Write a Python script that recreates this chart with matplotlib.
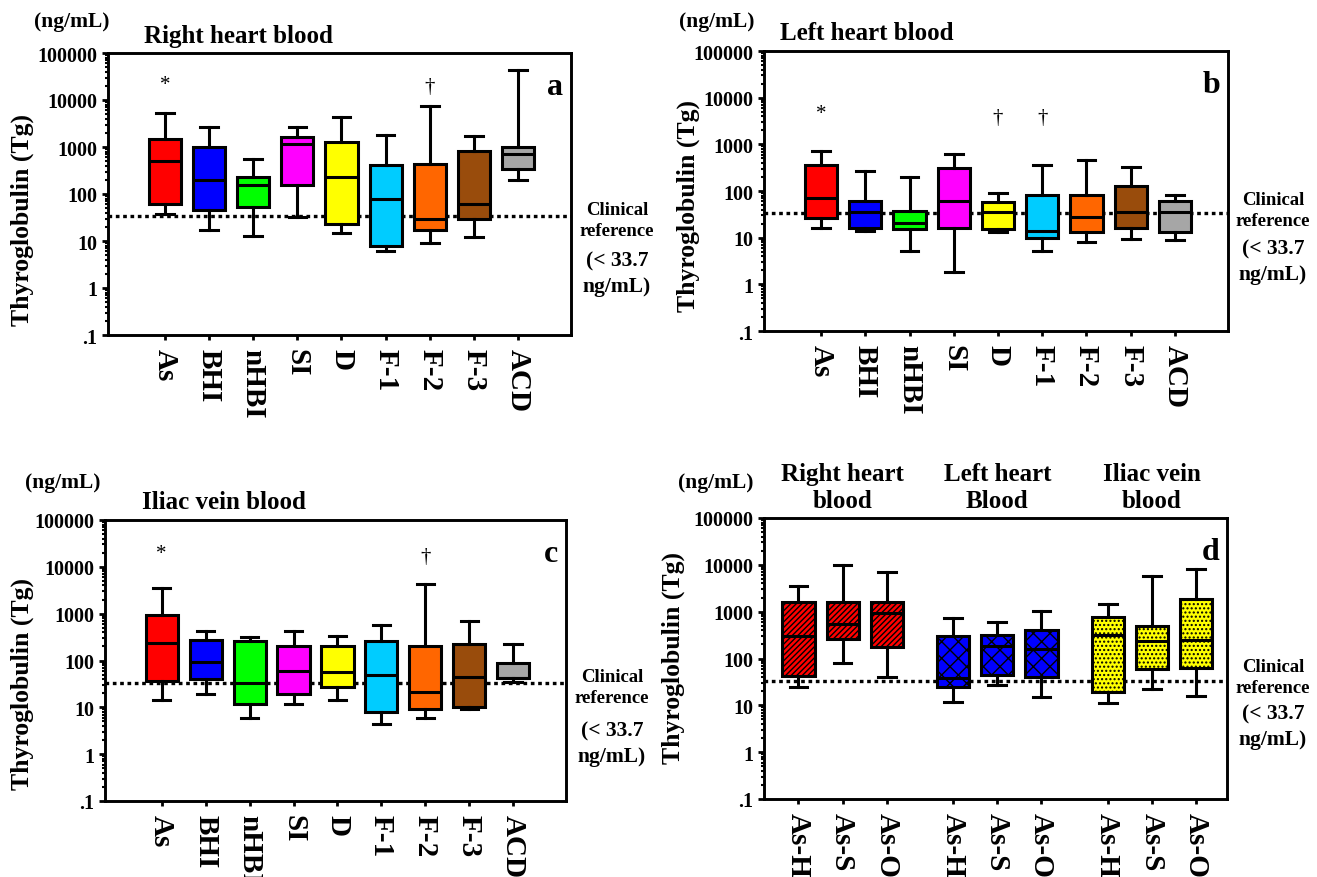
import numpy as np
import matplotlib
matplotlib.use("Agg")
import matplotlib.pyplot as plt
from matplotlib.ticker import FixedLocator, LogLocator, NullFormatter

plt.rcParams['font.family'] = ['Liberation Serif', 'DejaVu Serif']
plt.rcParams['font.weight'] = 'bold'
plt.rcParams['hatch.linewidth'] = 1.0

# groups for panels a-c
groups = ['As', 'BHI', 'nHBI', 'SI', 'D', 'F-1', 'F-2', 'F-3', 'ACD']
colors = ['#ff0000', '#0000ff', '#00ff00', '#ff00ff', '#ffff00',
          '#00ccff', '#ff6600', '#994c0c', '#a6a6a6']

# five-number summaries (whisker low, Q1, median, Q3, whisker high), ng/mL
right_low = [37, 17, 13, 32, 15, 6.2, 9.2, 12, 196]
right_q1 = [62, 45, 53, 158, 22.6, 7.7, 17, 29, 340]
right_med = [500, 196, 152, 1170, 225, 78, 29, 62, 700]
right_q3 = [1500, 980, 230, 1620, 1290, 410, 445, 820, 980]
right_high = [5400, 2700, 550, 2700, 4400, 1830, 7400, 1740, 44000]

left_low = [16, 14, 5.2, 1.8, 13.5, 5.2, 8, 9.5, 9]
left_q1 = [26, 16, 15.5, 16, 15.5, 10, 13.5, 16, 13.5]
left_med = [72, 36, 21, 61, 36, 13.8, 28, 35, 35]
left_q3 = [355, 61, 37, 305, 58, 82, 82, 125, 61]
left_high = [720, 265, 195, 630, 91, 355, 460, 325, 84]

iliac_low = [14, 19, 5.9, 11.5, 14, 4.5, 5.9, 9.2, 34]
iliac_q1 = [36, 41, 12, 19, 27, 7.9, 9.4, 10.2, 42]
iliac_med = [235, 92, 33, 61, 57, 48, 21, 45, 42]
iliac_q3 = [930, 275, 258, 200, 200, 258, 200, 220, 87]
iliac_high = [3600, 420, 315, 420, 340, 570, 4200, 690, 220]

# significance marks: (group, symbol, y value)
right_marks = [('As', '*', 21000), ('F-2', '†', 19000)]
left_marks = [('As', '*', 4600), ('D', '†', 3800), ('F-1', '†', 3800)]
iliac_marks = [('As', '*', 19000), ('F-2', '†', 17000)]

# panel d
d_labels = ['As-H', 'As-S', 'As-O'] * 3
d_sites = ['Right heart\nblood', 'Left heart\nBlood', 'Iliac vein\nblood']
d_colors = ['#ff0000', '#0000ff', '#ffff00']
d_hatches = ['//////', 'xx', '....']
d_low = [24.5, 81, 40, 11.8, 27, 15, 11, 22, 15.5]
d_q1 = [43, 263, 175, 24.5, 45, 40, 19, 59, 62]
d_med = [295, 545, 940, 38, 182, 162, 318, 233, 250]
d_q3 = [1590, 1590, 1590, 300, 320, 400, 760, 500, 1820]
d_high = [3550, 10000, 7000, 720, 615, 1030, 1480, 5750, 8300]

clinical_ref = 33.7
ytick_vals = [0.1, 1, 10, 100, 1000, 10000, 100000]
ytick_labels = ['.1', '1', '10', '100', '1000', '10000', '100000']

W, H = 1317, 878
fig = plt.figure(figsize=(W / 100, H / 100), dpi=100)


def px_axes(left, top, right, bottom):
    return fig.add_axes([left / W, 1 - bottom / H, (right - left) / W, (bottom - top) / H])


def px_text(x, y, s, **kw):
    fig.text(x / W, 1 - y / H, s, **kw)


def make_stats(low, q1, med, q3, high):
    return [dict(whislo=a, q1=b, med=c, q3=d, whishi=e, fliers=[])
            for a, b, c, d, e in zip(low, q1, med, q3, high)]


def style_axes(ax, positions, labels, xlim, label_xy):
    ax.set_yscale('log')
    ax.set_ylim(0.1, 100000)
    ax.set_xlim(*xlim)
    ax.yaxis.set_major_locator(FixedLocator(ytick_vals))
    ax.set_yticklabels(ytick_labels)
    ax.yaxis.set_minor_locator(LogLocator(base=10, subs=np.arange(2, 10), numticks=20))
    ax.yaxis.set_minor_formatter(NullFormatter())
    ax.set_xticks(positions)
    ax.set_xticklabels(labels, rotation=270, fontsize=21, fontweight='bold')
    ax.tick_params(axis='y', which='major', length=4.5, width=2, labelsize=14.5, pad=3)
    ax.tick_params(axis='y', which='minor', length=2.5, width=1.5)
    ax.tick_params(axis='x', which='major', length=3.5, width=2, pad=6)
    for lab in ax.get_yticklabels():
        lab.set_fontweight('bold')
    for s in ax.spines.values():
        s.set_linewidth(2.1)
    ax.set_ylabel('Thyroglobulin (Tg)', fontsize=18.5, fontweight='bold')
    ax.yaxis.set_label_coords(*label_xy)
    ax.axhline(clinical_ref, color='black', linestyle=(0, (1.1, 1.1)), linewidth=2.4, zorder=1)


def ref_text(x, y, gap=64):
    px_text(x, y + 11, 'Clinical\nreference', ha='center', va='center',
            fontsize=13.5, fontweight='bold', linespacing=1.35)
    px_text(x, y + gap, '(< 33.7\nng/mL)', ha='center', va='center',
            fontsize=15.5, fontweight='bold', linespacing=1.35)


def draw_boxes(ax, stats, positions, cols, hatches=None):
    bp = ax.bxp(stats, positions=positions, widths=0.73, capwidths=0.4, patch_artist=True,
                showfliers=False,
                boxprops=dict(linewidth=2.2, edgecolor='black'),
                medianprops=dict(color='black', linewidth=2.2),
                whiskerprops=dict(color='black', linewidth=2.2),
                capprops=dict(color='black', linewidth=2.2))
    for i, b in enumerate(bp['boxes']):
        b.set_facecolor(cols[i])
        b.set_zorder(2)
        if hatches is not None:
            b.set_hatch(hatches[i])
    return bp


# (axes box px, title, title x, letter, stats, marks, ylabel coords, unit xy, ref xy, ref gap)
panels = [
    ((108, 54, 571, 336), 'Right heart blood', 144, 'a',
     make_stats(right_low, right_q1, right_med, right_q3, right_high), right_marks,
     (-0.16, 0.41), (72, 22), (617, 210), 64),
    ((764, 52, 1228, 332), 'Left heart blood', 780, 'b',
     make_stats(left_low, left_q1, left_med, left_q3, left_high), left_marks,
     (-0.138, 0.45), (717, 22), (1273, 200), 62),
    ((105, 521, 566, 802), 'Iliac vein blood', 142, 'c',
     make_stats(iliac_low, iliac_q1, iliac_med, iliac_q3, iliac_high), iliac_marks,
     (-0.154, 0.42), (63, 483), (612, 677), 67),
]

positions = np.arange(1, len(groups) + 1)
for box, title, tx, letter, stats, marks, lab_xy, unit_xy, ref_xy, gap in panels:
    ax = px_axes(*box)
    draw_boxes(ax, stats, positions, colors)
    style_axes(ax, positions, groups, (1 - 1.29, len(groups) + 1.2), lab_xy)
    px_text(tx, box[1] - 18, title, ha='left', va='center', fontsize=18, fontweight='bold')
    px_text(unit_xy[0], unit_xy[1], '(ng/mL)', ha='center', va='center',
            fontsize=15.5, fontweight='bold')
    ax.text(0.983, 0.88, letter, transform=ax.transAxes, ha='right', va='center',
            fontsize=23, fontweight='bold')
    for g, sym, yv in marks:
        ax.text(groups.index(g) + 1, yv, sym, ha='center', va='center', fontsize=15,
                fontweight='normal')
    ref_text(ref_xy[0], ref_xy[1], gap)

# panel d
d_pos = [0, 1, 2, 3.5, 4.5, 5.5, 7, 8, 9]
axd = px_axes(764, 519, 1227, 800)
d_cols = [d_colors[i // 3] for i in range(9)]
d_hat = [d_hatches[i // 3] for i in range(9)]
draw_boxes(axd, make_stats(d_low, d_q1, d_med, d_q3, d_high), d_pos, d_cols, d_hat)
style_axes(axd, d_pos, d_labels, (-0.78, 9.7), (-0.17, 0.505))
for k, site in enumerate(d_sites):
    axd.text(d_pos[3 * k + 1], 1.02, site, transform=axd.get_xaxis_transform(),
             ha='center', va='bottom', fontsize=18, fontweight='bold', linespacing=1.25)
px_text(716, 483, '(ng/mL)', ha='center', va='center', fontsize=15.5, fontweight='bold')
axd.text(0.983, 0.88, 'd', transform=axd.transAxes, ha='right', va='center',
         fontsize=23, fontweight='bold')
ref_text(1273, 667, 60)

fig.savefig('out.png', dpi=100)
